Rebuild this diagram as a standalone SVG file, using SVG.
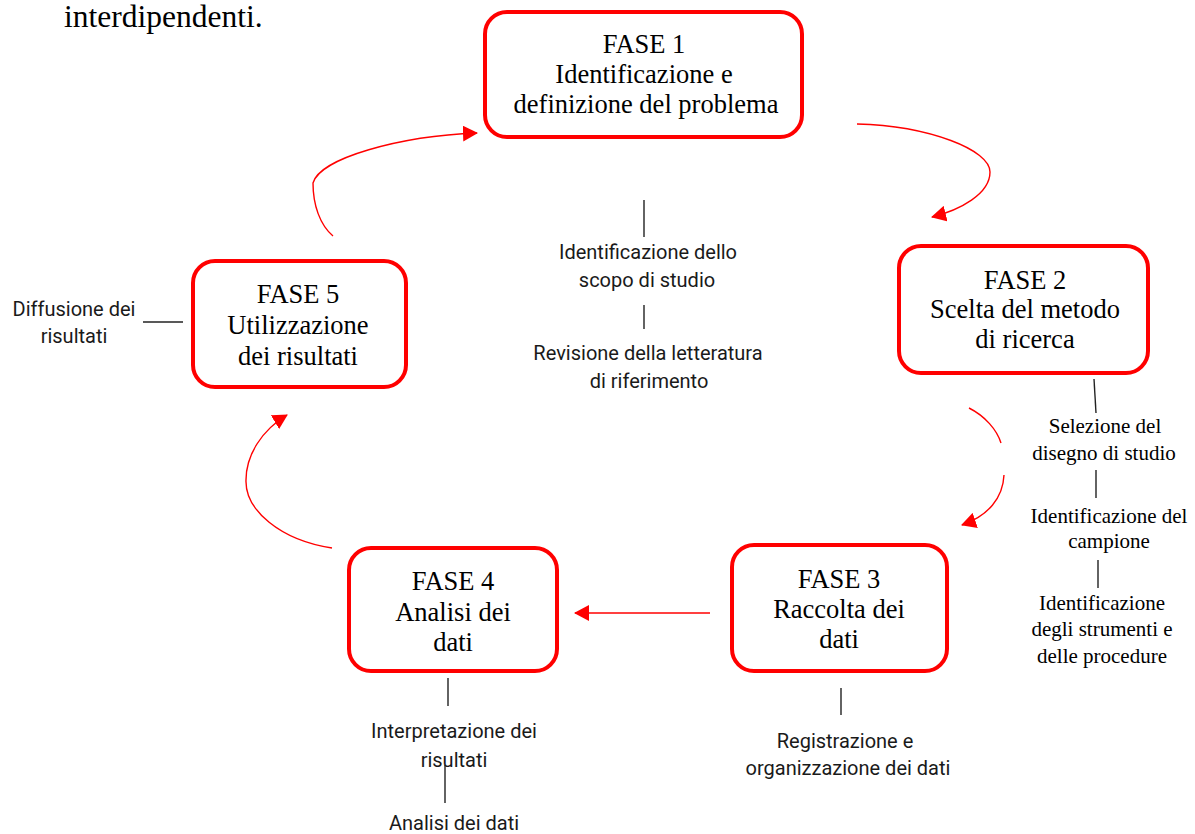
<svg xmlns="http://www.w3.org/2000/svg" width="1195" height="834" viewBox="0 0 1195 834">
<style>
.box{fill:#fff;stroke:#ff0000;stroke-width:4}
.t{font-family:"Liberation Serif","Times New Roman",serif;font-size:26.5px;fill:#000;text-anchor:middle}
.s{font-family:"Liberation Serif","Times New Roman",serif;font-size:21px;fill:#000;text-anchor:middle}
.n{font-family:Roboto,"Noto Sans",sans-serif;font-size:20px;fill:#1a1a1a;text-anchor:middle}
.c{fill:none;stroke:#ff0000;stroke-width:1.4}
.k{fill:none;stroke:#222;stroke-width:1.4}
</style>
<defs>
<marker id="ah" viewBox="0 0 15 16" refX="14" refY="8" markerWidth="15" markerHeight="16" markerUnits="userSpaceOnUse" orient="auto">
<path d="M0,0 L15,8 L0,16 z" fill="#ff0000"/>
</marker>
</defs>
<rect width="1195" height="834" fill="#fff"/>
<text x="64" y="27" font-family="Liberation Serif, Times New Roman, serif" font-size="31.5" fill="#000">interdipendenti.</text>

<g id="connectors">
<path class="c" d="M857,124 C930,126 990,150 990,172 C990,194 960,210 932,217" marker-end="url(#ah)"/>
<path class="c" d="M969,408 C985,416 997,430 1001,443"/>
<path class="c" d="M1004,475 C1003,498 988,516 962,525" marker-end="url(#ah)"/>
<path class="c" d="M710,613 L575,613" stroke-width="1.6" marker-end="url(#ah)"/>
<path class="c" d="M332,548 C280,540 245,510 246,480 C246,455 262,430 287,415" marker-end="url(#ah)"/>
<path class="c" d="M333,236 C320,225 313,205 313,183 C320,158 400,136 477,133" marker-end="url(#ah)"/>
</g>

<g id="fase1">
<rect class="box" x="485" y="12" width="317" height="125" rx="22"/>
<text class="t" x="644" y="53">FASE 1</text>
<text class="t" x="644" y="83">Identificazione e</text>
<text class="t" x="646" y="113">definizione del problema</text>
</g>
<g id="fase1-details">
<line class="k" x1="644" y1="200" x2="644" y2="237"/>
<text class="n" x="648" y="259">Identificazione dello</text>
<text class="n" x="647" y="287">scopo di studio</text>
<line class="k" x1="644" y1="305" x2="644" y2="329"/>
<text class="n" x="648" y="360">Revisione della letteratura</text>
<text class="n" x="649" y="388">di riferimento</text>
</g>

<g id="fase2">
<rect class="box" x="899" y="246" width="249" height="127" rx="22"/>
<text class="t" x="1025" y="289">FASE 2</text>
<text class="t" x="1025" y="318">Scelta del metodo</text>
<text class="t" x="1025" y="348">di ricerca</text>
</g>
<g id="fase2-details">
<line class="k" x1="1094" y1="379" x2="1096" y2="413"/>
<text class="s" x="1105" y="433">Selezione del</text>
<text class="s" x="1104" y="460">disegno di studio</text>
<line class="k" x1="1096" y1="470" x2="1096" y2="498"/>
<text class="s" x="1109" y="523">Identificazione del</text>
<text class="s" x="1109" y="548">campione</text>
<line class="k" x1="1098" y1="560" x2="1098" y2="588"/>
<text class="s" x="1102" y="610">Identificazione</text>
<text class="s" x="1102" y="636">degli strumenti e</text>
<text class="s" x="1102" y="663">delle procedure</text>
</g>

<g id="fase3">
<rect class="box" x="732" y="545" width="215" height="126" rx="22"/>
<text class="t" x="839" y="588">FASE 3</text>
<text class="t" x="839" y="618">Raccolta dei</text>
<text class="t" x="839" y="648">dati</text>
</g>
<g id="fase3-details">
<line class="k" x1="841" y1="688" x2="841" y2="715"/>
<text class="n" x="845" y="748">Registrazione e</text>
<text class="n" x="848" y="775">organizzazione dei dati</text>
</g>

<g id="fase4">
<rect class="box" x="349" y="548" width="208" height="123" rx="22"/>
<text class="t" x="453" y="590">FASE 4</text>
<text class="t" x="453" y="621">Analisi dei</text>
<text class="t" x="453" y="651">dati</text>
</g>
<g id="fase4-details">
<line class="k" x1="448" y1="678" x2="448" y2="706"/>
<text class="n" x="454" y="738">Interpretazione dei</text>
<text class="n" x="454" y="767">risultati</text>
<line class="k" x1="445" y1="765" x2="445" y2="803"/>
<text class="n" x="454" y="830">Analisi dei dati</text>
</g>

<g id="fase5">
<rect class="box" x="193" y="261" width="213" height="126" rx="22"/>
<text class="t" x="298" y="303">FASE 5</text>
<text class="t" x="298" y="334">Utilizzazione</text>
<text class="t" x="298" y="365">dei risultati</text>
</g>
<g id="fase5-details">
<text class="n" x="74" y="316">Diffusione dei</text>
<text class="n" x="74" y="343">risultati</text>
<line class="k" x1="143" y1="322" x2="183" y2="322"/>
</g>
</svg>
